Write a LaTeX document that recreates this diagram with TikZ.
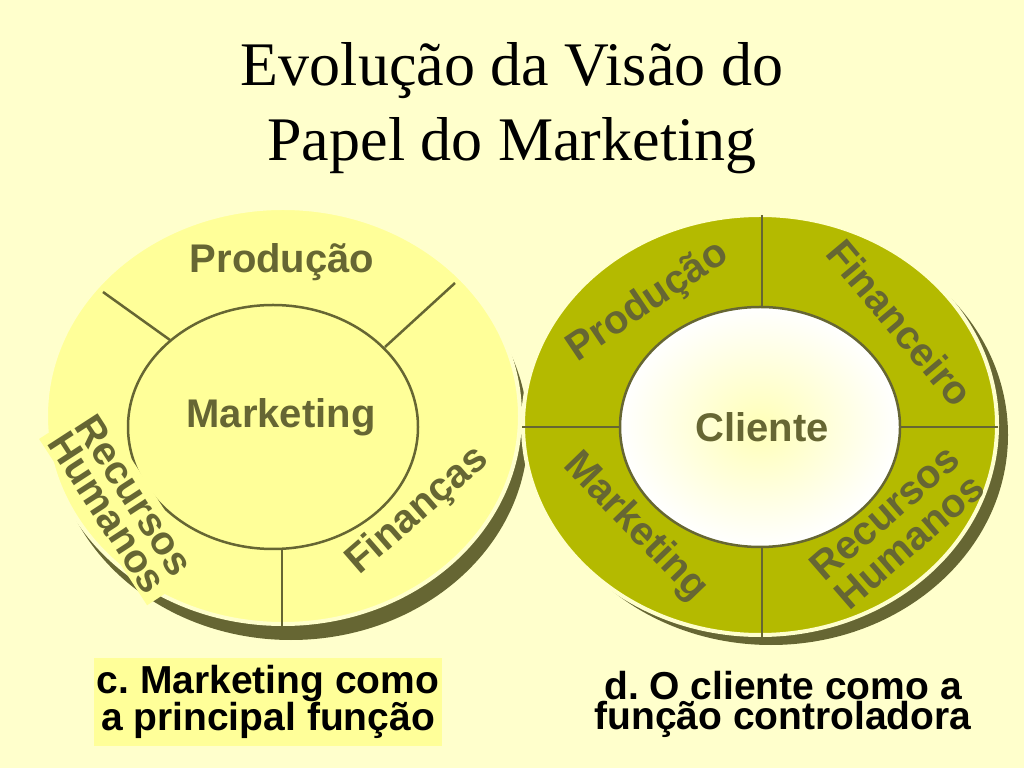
\documentclass[tikz,border=0pt]{standalone}
\usepackage{fontspec}
\setmainfont{Liberation Serif}
\newfontfamily\arialfont{Liberation Sans}
\usepackage{tikz}
\usetikzlibrary{shapes.geometric}
\frenchspacing
\definecolor{mkbg}{RGB}{255,255,204}
\definecolor{mklight}{RGB}{255,255,153}
\definecolor{mkolive}{RGB}{180,186,0}
\definecolor{mkdark}{RGB}{102,102,51}

\begin{document}
\begin{tikzpicture}[x=1pt, y=1pt,
  sector/.style={font=\arialfont\bfseries\fontsize{40}{32}\selectfont, text=mkdark, align=center},
  caption/.style={font=\arialfont\bfseries\fontsize{39}{30}\selectfont, align=center, inner xsep=3pt, inner ysep=7pt, anchor=north},
  divider/.style={draw=mkdark, line width=2.5pt}]
% Background
\fill[mkbg] (0,0) rectangle (1024,768);
\useasboundingbox (0,0) rectangle (1024,768);

% Title
\node[font=\fontsize{62}{75}\selectfont, align=center, anchor=north, inner sep=0pt] (title) at (512,726) {Evolução da Visão do\\Papel do Marketing};

% Left circle: shadow, disc, inner ellipse
\fill[mkdark] (291,336) ellipse [x radius=237, y radius=208];
\draw[fill=mklight, draw=mkbg, line width=4pt] (283,352) ellipse [x radius=237, y radius=208];
\draw[divider] (273,341) ellipse [x radius=145, y radius=122];
\draw[divider] (103,476) -- (170,428);
\draw[divider] (455,485) -- (385,421);
\draw[divider] (282,218) -- (282,138);

% Left labels
\node[sector, anchor=base] (prodL) at (282,495) {Produção};
\node[sector, anchor=base] (mktL) at (281,340) {Marketing};
\node[sector, rotate=41] (finL) at (418,257) {Finanças};
\node[sector, fill=mklight, rotate=-57, inner xsep=8pt] (rhL) at (121,264) {Recursos\\Humanos};

% Right circle: shadow, ring, inner ellipse
\fill[mkdark] (771,333) ellipse [x radius=237, y radius=210];
\draw[fill=mkolive, draw=mkbg, line width=4pt] (760,343) ellipse [x radius=237, y radius=210];
\draw[divider, inner color=mklight!70, outer color=white] (760,341) ellipse [x radius=140, y radius=120];
\draw[divider] (762,553) -- (762,461);
\draw[divider] (762,221) -- (762,131);
\draw[divider] (522,341) -- (620,341);
\draw[divider] (900,341) -- (998,341);

% Right labels
\node[sector, anchor=base] (cliR) at (762,326) {Cliente};
\node[sector, rotate=34] (prodR) at (648,466) {Produção};
\node[sector, rotate=-50] (finR) at (900,445) {Financeiro};
\node[sector, rotate=-46] (mktR) at (635,241) {Marketing};
\node[sector, font=\arialfont\bfseries\fontsize{40}{38}\selectfont, rotate=41] (rhR) at (897,241) {Recursos\\Humanos};

% Captions
\node[caption, fill=mklight] (capL) at (268,110) {c. Marketing como\\a principal função};
\node[caption] (capR) at (783,104) {d. O cliente como a\\função controladora};
\end{tikzpicture}
\end{document}
